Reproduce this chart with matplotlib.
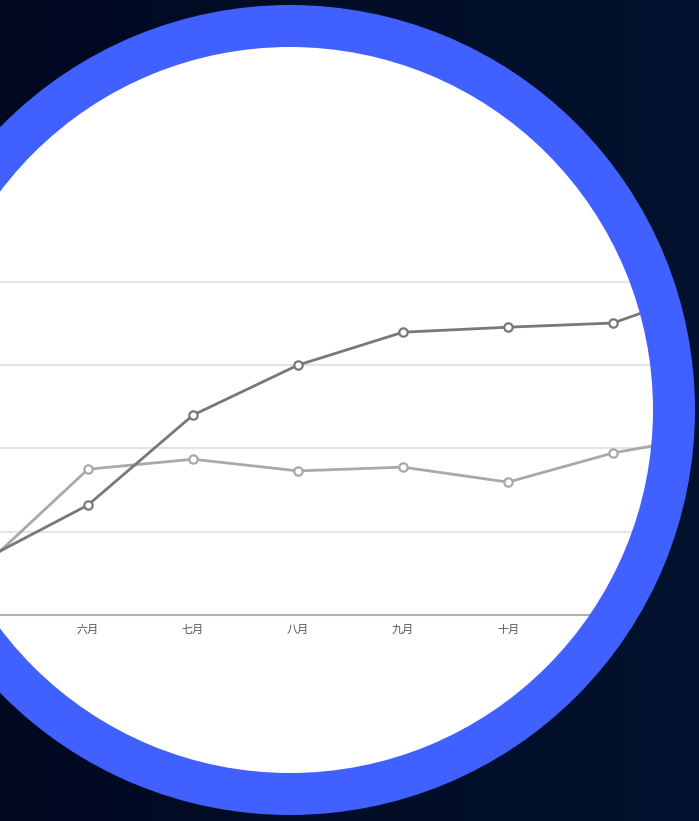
#!/usr/bin/env python3
"""Monthly line chart shown inside a blue-ringed circle on a dark backdrop."""
import numpy as np, matplotlib
matplotlib.use('Agg'); import matplotlib.pyplot as plt
from matplotlib.patches import Annulus

plt.rcParams['font.family'] = ['Noto Sans CJK SC', 'DejaVu Sans']

months = ['五月', '六月', '七月', '八月', '九月', '十月', '十一月', '十二月']
series_dark = [13.2, 26.4, 48.0, 60.0, 67.9, 69.1, 70.1, 79.0]
series_light = [11.5, 35.0, 37.4, 34.6, 35.5, 31.9, 38.9, 43.4]
grid_vals = [20, 40, 60, 80]

W, H = 699, 821
CX, CY, R_OUT, RING = 290, 410, 405, 42

fig = plt.figure(figsize=(W / 100, H / 100), dpi=100, facecolor='white')

# chart axes: month i sits at pixel x = 88 + 105*(i-1), value 0 at pixel y = 615
ax = fig.add_axes([0, (H - 615) / H, 1, 615 / H])
x = np.arange(len(months))
ax.plot(x, series_light, color='#a9a9a9', lw=2, marker='o', ms=6,
        mfc='white', mew=1.6, zorder=3)
ax.plot(x, series_dark, color='#787878', lw=2, marker='o', ms=6,
        mfc='white', mew=1.6, zorder=4)

# only months whose labels fall inside the image get ticks
ax.set_xticks(x[1:7], months[1:7])
ax.set_yticks(grid_vals)
ax.set_xlim(1 - 88 / 105, 1 + (W - 88) / 105)
ax.set_ylim(0, 615 / 83.3 * 20)
ax.yaxis.grid(True, color='#e4e4e4', lw=1.5)
ax.set_axisbelow(True)
ax.tick_params(axis='y', left=False, labelleft=False)
ax.tick_params(axis='x', length=0, pad=7, labelsize=8, labelcolor='#555555')
for s in ['top', 'right', 'left']:
    ax.spines[s].set_visible(False)
ax.spines['bottom'].set_color('#b0b0b0'); ax.spines['bottom'].set_linewidth(1.5)

# overlay: dark background outside the circle, then the blue ring
ov = fig.add_axes([0, 0, 1, 1], zorder=10)
ov.set_xlim(0, W); ov.set_ylim(H, 0); ov.axis('off'); ov.patch.set_alpha(0)
yy, xx = np.mgrid[0:H, 0:W]
t = xx / W
bg = np.zeros((H, W, 4))
bg[..., 0] = (1 + 2 * t) / 255
bg[..., 1] = (9 + 9 * t) / 255
bg[..., 2] = (33 + 13 * t) / 255
bg[..., 3] = (np.hypot(xx - CX, yy - CY) > R_OUT - 6).astype(float)
ov.imshow(bg, extent=(0, W, H, 0), interpolation='bilinear', zorder=1)
ov.add_patch(Annulus((CX, CY), R_OUT, RING, color='#4060ff', lw=0, zorder=2))

plt.savefig('out.png', dpi=100)
plt.close()
